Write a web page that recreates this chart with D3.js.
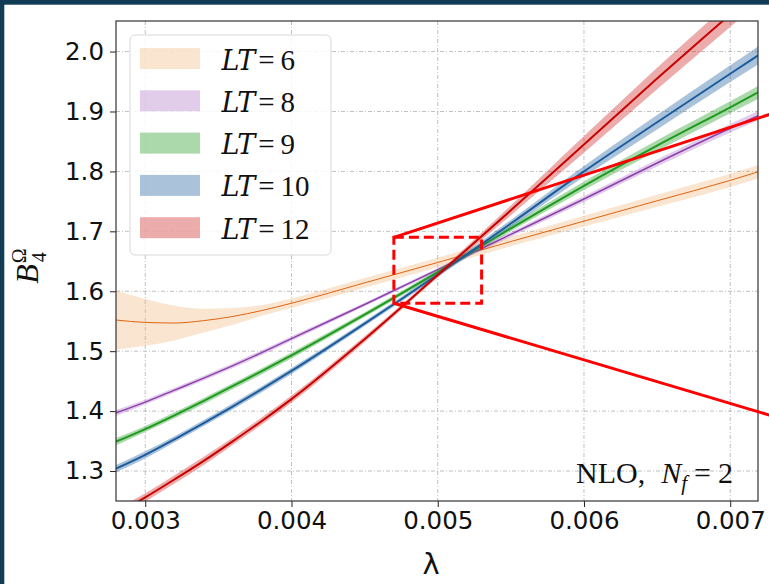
<!DOCTYPE html>
<html>
<head>
<meta charset="utf-8">
<script src="https://cdn.jsdelivr.net/npm/d3@7"></script>
<style>
  body { margin: 0; background: #fff; }
  svg { display: block; }
</style>
</head>
<body>
<div id="chart"></div>
<script>
"use strict"
// lambda grid the curves are sampled on
var lambdas = [0.0028, 0.0030, 0.0032, 0.0034, 0.0036, 0.0038, 0.0040, 0.0045, 0.0050, 0.0055, 0.0060, 0.0065, 0.0070, 0.0072];

// central values of B4 for each LT
var lt6  = [1.552, 1.548, 1.547, 1.551, 1.558, 1.568, 1.580, 1.614, 1.648, 1.683, 1.717, 1.751, 1.785, 1.800];
var lt8  = [1.397, 1.415, 1.435, 1.455, 1.476, 1.498, 1.521, 1.578, 1.636, 1.695, 1.754, 1.814, 1.872, 1.894];
var lt9  = [1.349, 1.370, 1.393, 1.417, 1.442, 1.467, 1.493, 1.561, 1.632, 1.705, 1.776, 1.843, 1.907, 1.933];
var lt10 = [1.304, 1.327, 1.353, 1.380, 1.408, 1.437, 1.467, 1.546, 1.628, 1.713, 1.800, 1.882, 1.963, 1.995];
var lt12 = [1.228, 1.256, 1.286, 1.317, 1.350, 1.384, 1.420, 1.520, 1.627, 1.735, 1.845, 1.955, 2.062, 2.105];

// half widths of the error bands
var err6  = [0.049, 0.039, 0.029, 0.020, 0.014, 0.009, 0.008, 0.008, 0.008, 0.008, 0.009, 0.010, 0.011, 0.011];
var err8  = [0.005, 0.004, 0.004, 0.004, 0.004, 0.004, 0.004, 0.003, 0.003, 0.004, 0.005, 0.006, 0.007, 0.008];
var err9  = [0.006, 0.005, 0.005, 0.005, 0.005, 0.005, 0.005, 0.004, 0.004, 0.005, 0.007, 0.009, 0.010, 0.011];
var err10 = [0.006, 0.006, 0.005, 0.005, 0.005, 0.005, 0.005, 0.004, 0.004, 0.006, 0.009, 0.012, 0.014, 0.015];
var err12 = [0.008, 0.007, 0.007, 0.007, 0.006, 0.006, 0.006, 0.005, 0.004, 0.008, 0.014, 0.018, 0.021, 0.023];

var ltLabels = ["6", "8", "9", "10", "12"];
var xTicks = [0.003, 0.004, 0.005, 0.006, 0.007];
var yTicks = [1.3, 1.4, 1.5, 1.6, 1.7, 1.8, 1.9, 2.0];

// zoomed region and where the (off-page) inset sits
var zoomX = [0.0047, 0.0053];
var zoomY = [1.58, 1.69];
var insetLeft = 0.00748;
var insetY = [1.378, 1.912];

var series = [
  {lt: ltLabels[0], vals: lt6,  err: err6,  line: "#e0650f", band: "#f0a868", bandOp: 0.3, lw: 1},
  {lt: ltLabels[1], vals: lt8,  err: err8,  line: "#8e3fae", band: "#9d58b8", bandOp: 0.3, lw: 1.5},
  {lt: ltLabels[2], vals: lt9,  err: err9,  line: "#1f9a1f", band: "#2ca02c", bandOp: 0.4, lw: 2},
  {lt: ltLabels[3], vals: lt10, err: err10, line: "#1d5c9c", band: "#2a6aa5", bandOp: 0.4, lw: 2},
  {lt: ltLabels[4], vals: lt12, err: err12, line: "#c80000", band: "#d02424", bandOp: 0.38, lw: 2}
];

var W = 769, H = 584;
var margin = {top: 21, right: 11, bottom: 83, left: 116};
var drawWidth = W - margin.left - margin.right;
var drawHeight = H - margin.top - margin.bottom;

var xScale = d3.scaleLinear().domain([0.0028, 0.00719]).range([0, drawWidth]);
var yScale = d3.scaleLinear().domain([1.25, 2.051]).range([drawHeight, 0]);

var svg = d3.select("#chart").append("svg").attr("width", W).attr("height", H);

// dark frame around the screenshot
svg.append("rect").attr("x", 0).attr("y", 0).attr("width", W).attr("height", 4.7).attr("fill", "#103d55");
svg.append("rect").attr("x", 0).attr("y", 0).attr("width", 4.3).attr("height", H).attr("fill", "#103d55");

var g = svg.append("g").attr("transform", "translate(" + margin.left + "," + margin.top + ")");

g.append("clipPath").attr("id", "plotclip")
  .append("rect").attr("width", drawWidth).attr("height", drawHeight);

// grid
var gridStyle = function(sel) {
  sel.attr("stroke", "#b0b0b0").attr("stroke-width", 0.8).attr("stroke-dasharray", "4,2,1,2");
};
g.selectAll(".vgrid").data(xTicks).enter().append("line")
  .attr("x1", function(d) { return xScale(d); }).attr("x2", function(d) { return xScale(d); })
  .attr("y1", 0).attr("y2", drawHeight).call(gridStyle);
g.selectAll(".hgrid").data(yTicks).enter().append("line")
  .attr("y1", function(d) { return yScale(d); }).attr("y2", function(d) { return yScale(d); })
  .attr("x1", 0).attr("x2", drawWidth).call(gridStyle);

var plot = g.append("g").attr("clip-path", "url(#plotclip)");

var area = d3.area().curve(d3.curveMonotoneX)
  .x(function(d) { return xScale(d[0]); })
  .y0(function(d) { return yScale(d[1] - d[2]); })
  .y1(function(d) { return yScale(d[1] + d[2]); });
var line = d3.line().curve(d3.curveMonotoneX)
  .x(function(d) { return xScale(d[0]); })
  .y(function(d) { return yScale(d[1]); });

series.forEach(function(s) {
  var pts = lambdas.map(function(l, i) { return [l, s.vals[i], s.err[i]]; });
  plot.append("path").attr("d", area(pts))
    .attr("fill", s.band).attr("fill-opacity", s.bandOp).attr("stroke", "none");
  plot.append("path").attr("d", line(pts))
    .attr("fill", "none").attr("stroke", s.line).attr("stroke-width", s.lw);
});

// axes
var tickFont = "'DejaVu Sans', sans-serif";
var xAxis = d3.axisBottom(xScale).tickValues(xTicks).tickFormat(d3.format(".3f")).tickSize(6).tickPadding(5);
var yAxis = d3.axisLeft(yScale).tickValues(yTicks).tickFormat(d3.format(".1f")).tickSize(6).tickPadding(6);

var gx = g.append("g").attr("transform", "translate(0," + drawHeight + ")").call(xAxis);
var gy = g.append("g").call(yAxis);
[gx, gy].forEach(function(ax) {
  ax.select(".domain").remove();
  ax.selectAll(".tick line").attr("stroke", "#222").attr("stroke-width", 1);
  ax.selectAll("text").attr("fill", "#111").style("font-family", tickFont).style("font-size", "24.5px");
});

// frame
g.append("rect").attr("width", drawWidth).attr("height", drawHeight)
  .attr("fill", "none").attr("stroke", "#333").attr("stroke-width", 1.2);

// axis titles
svg.append("text")
  .attr("x", margin.left + drawWidth / 2 - 6).attr("y", 574)
  .attr("text-anchor", "middle")
  .style("font-family", tickFont).style("font-size", "29px").attr("fill", "#111")
  .text("λ");

var ylab = svg.append("text")
  .attr("transform", "translate(38,266) rotate(-90)")
  .attr("text-anchor", "middle")
  .style("font-family", "'Liberation Serif', serif").style("font-size", "32px").attr("fill", "#111");
ylab.append("tspan").attr("font-style", "italic").text("B");
ylab.append("tspan").attr("dy", -12).attr("dx", 1).style("font-size", "20px").text("Ω");
ylab.append("tspan").attr("dx", -14).attr("dy", 20).style("font-size", "20px").text("4");

// NLO annotation
var ann = g.append("text")
  .attr("x", xScale(0.00719) - 25).attr("y", drawHeight - 18)
  .attr("text-anchor", "end")
  .style("font-family", "'Liberation Serif', serif").style("font-size", "30px").attr("fill", "#111");
ann.append("tspan").text("NLO,");
ann.append("tspan").attr("dx", 16).attr("font-style", "italic").text("N");
ann.append("tspan").attr("dy", 7).attr("font-style", "italic").style("font-size", "21px").text("f");
ann.append("tspan").attr("dy", -7).attr("dx", 7).text("=");
ann.append("tspan").attr("dx", 7).text("2");

// legend
var legend = svg.append("g").attr("transform", "translate(130,35)");
legend.append("rect").attr("width", 201).attr("height", 220).attr("rx", 5)
  .attr("fill", "#fff").attr("fill-opacity", 0.85).attr("stroke", "#d8d8d8").attr("stroke-width", 1);
series.forEach(function(s, i) {
  var row = legend.append("g").attr("transform", "translate(0," + (23.5 + i * 42.3) + ")");
  row.append("rect").attr("x", 10).attr("y", -10.5).attr("width", 60).attr("height", 21)
    .attr("fill", s.band).attr("fill-opacity", s.bandOp);
  var t = row.append("text").attr("x", 91.5).attr("y", 11)
    .style("font-family", "'Liberation Serif', serif").style("font-size", "29px").attr("fill", "#111");
  t.append("tspan").attr("font-style", "italic").style("font-family", "'DejaVu Serif', serif").style("font-size", "27px").text("LT");
  t.append("tspan").attr("dx", 3).text("=");
  t.append("tspan").attr("dx", 6).text(s.lt);
});

// zoom box and connectors to the inset
var zx0 = xScale(zoomX[0]), zx1 = xScale(zoomX[1]);
var zyTop = yScale(zoomY[1]), zyBot = yScale(zoomY[0]);
g.append("rect").attr("x", zx0).attr("y", zyTop).attr("width", zx1 - zx0).attr("height", zyBot - zyTop)
  .attr("fill", "none").attr("stroke", "#ff0000").attr("stroke-width", 3).attr("stroke-dasharray", "10,5");
g.append("line").attr("x1", zx0).attr("y1", zyTop)
  .attr("x2", xScale(insetLeft)).attr("y2", yScale(insetY[1]))
  .attr("stroke", "#ff0000").attr("stroke-width", 3);
g.append("line").attr("x1", zx0).attr("y1", zyBot)
  .attr("x2", xScale(insetLeft)).attr("y2", yScale(insetY[0]))
  .attr("stroke", "#ff0000").attr("stroke-width", 3);
</script>
</body>
</html>
